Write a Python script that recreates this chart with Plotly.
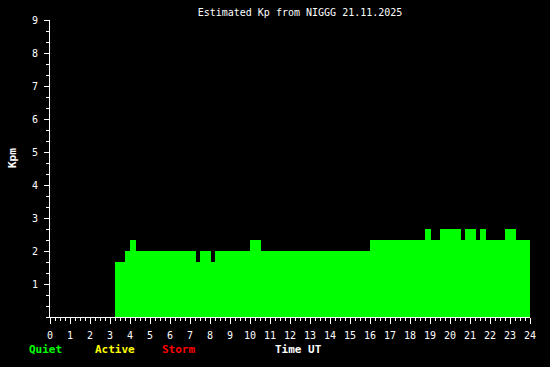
import plotly.graph_objects as go

# Step start times (hours UT) and estimated Kp level from each start to the next
start_hours = [3.25, 3.75, 4.0, 4.3, 7.3, 7.5, 8.05, 8.25, 10.0, 10.55, 16.0,
               18.75, 19.05, 19.5, 20.55, 20.75, 21.3, 21.5, 21.8, 22.75, 23.3]
end_hour = 24.0
kp_values = [1.667, 2.0, 2.333, 2.0, 1.667, 2.0, 1.667, 2.0, 2.333, 2.0, 2.333,
             2.667, 2.333, 2.667, 2.333, 2.667, 2.333, 2.667, 2.333, 2.667, 2.333]

x_ticks = list(range(0, 25))
y_ticks = list(range(1, 10))

title_text = "Estimated Kp from NIGGG 21.11.2025"
legend_items = [("Quiet", "#00ff00"), ("Active", "#ffff00"), ("Storm", "#ff0000")]

ends = start_hours[1:] + [end_hour]
widths = [e - s for s, e in zip(start_hours, ends)]

fig = go.Figure()
fig.add_trace(go.Bar(
    x=start_hours, y=kp_values, width=widths, offset=0,
    marker=dict(color="#00ff00", line=dict(width=0)),
    hoverinfo="x+y", showlegend=False,
))

mono = "DejaVu Sans Mono"
L, R, T, B = 50, 20, 20, 50
W, H = 550, 367
PW, PH = W - L - R, H - T - B

def px2paper(px, py):
    return (px - L) / PW, (H - B - py) / PH

fig.update_layout(
    width=W, height=H,
    margin=dict(l=L, r=R, t=T, b=B),
    paper_bgcolor="black", plot_bgcolor="black",
    bargap=0,
    font=dict(family=mono, size=10, color="white"),
    title=dict(text=title_text, x=300/W, xanchor="center", y=1 - 12/H, yanchor="middle",
               font=dict(family=mono, size=10, color="white")),
    xaxis=dict(range=[0, 24], tickvals=x_ticks, ticktext=[str(v) for v in x_ticks],
               showgrid=False, zeroline=False, showline=True, linecolor="white", linewidth=1,
               ticks="outside", ticklen=6, tickcolor="white", tickwidth=1,
               ticklabelstandoff=3,
               tickfont=dict(family=mono, size=10, color="white"),
               minor=dict(dtick=0.25, tick0=0, ticks="outside", ticklen=3, tickcolor="white", showgrid=False),
               fixedrange=True),
    yaxis=dict(range=[0, 9], tickvals=y_ticks, ticktext=[str(v) for v in y_ticks],
               showgrid=False, zeroline=False, showline=True, linecolor="white", linewidth=1,
               ticks="outside", ticklen=5, tickcolor="white", tickwidth=1,
               ticklabelstandoff=4,
               tickfont=dict(family=mono, size=10, color="white"),
               minor=dict(dtick=1/3, tick0=0, ticks="outside", ticklen=3, tickcolor="white", showgrid=False),
               fixedrange=True),
)

annotations = []
lx = [45, 115, 178]
for (txt, col), px in zip(legend_items, lx):
    ax, ay = px2paper(px, 349)
    annotations.append(dict(text=f"<b>{txt}</b>", x=ax, y=ay, xref="paper", yref="paper",
                            xanchor="center", yanchor="middle", showarrow=False,
                            font=dict(family=mono, size=11, color=col)))
ax, ay = px2paper(298, 349)
annotations.append(dict(text="<b>Time UT</b>", x=ax, y=ay, xref="paper", yref="paper",
                        xanchor="center", yanchor="middle", showarrow=False,
                        font=dict(family=mono, size=11, color="white")))
ax, ay = px2paper(12, 158)
annotations.append(dict(text="<b>Kpm</b>", x=ax, y=ay, xref="paper", yref="paper",
                        xanchor="center", yanchor="middle", showarrow=False, textangle=-90,
                        font=dict(family=mono, size=11, color="white")))
fig.update_layout(annotations=annotations)

fig.write_html("out.html")
